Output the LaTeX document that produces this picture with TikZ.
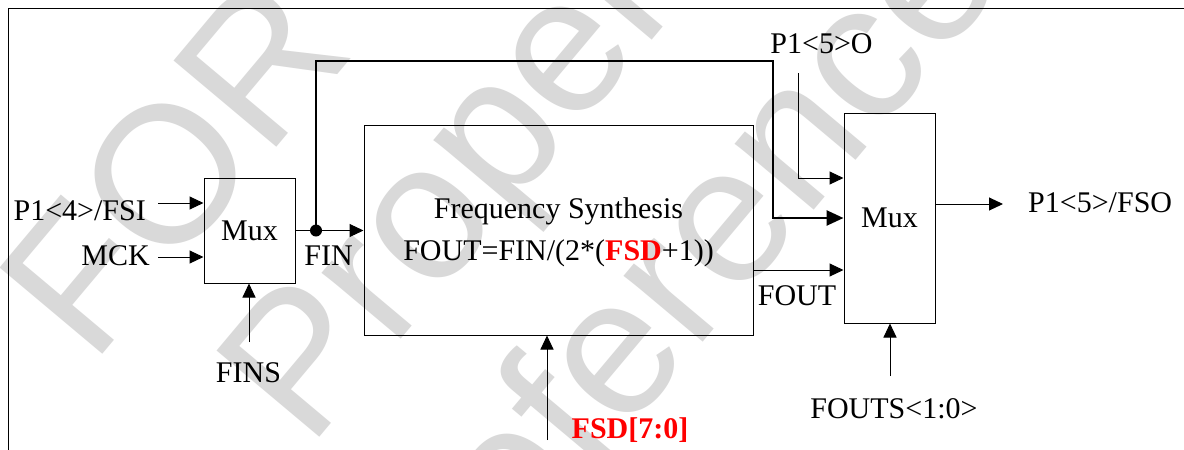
\documentclass[tikz,border=0pt]{standalone}
\usepackage{fontspec}
\setmainfont{Liberation Serif}
\newfontfamily\wmfont{Liberation Sans}
\usetikzlibrary{arrows.meta,calc}
\begin{document}
\begin{tikzpicture}[x=1pt,y=-1pt,
  lbl/.style={font=\fontsize{30}{36}\selectfont, inner sep=0pt},
  blk/.style={draw=black, line width=1pt, inner sep=0pt},
  arr/.style={line width=1pt, -{Triangle[length=14pt,width=13pt]}},
  thk/.style={line width=2.6pt, -{Triangle[length=17pt,width=15pt]}},
  wm/.style={text=black!15, font=\wmfont\fontsize{195}{195}\selectfont, rotate=50, inner sep=0pt}]
\useasboundingbox (0,0) rectangle (1184,450);
\fill[white] (0,0) rectangle (1184,450);
% watermark
\node[wm] (wm1) at (173,166) {FOR};
\node[wm] (wm2) at (510,137) {Property};
\node[wm] (wm3) at (690,250) {reference};
% frame
\draw[line width=1pt] (8,450) -- (8,8) -- (1184,8);
% blocks
\node[blk, minimum width=91pt, minimum height=105pt, font=\fontsize{30}{36}\selectfont] (m1) at (249.5,230.5) {Mux};
\node[blk, minimum width=389pt, minimum height=210pt] (fs) at (558.5,230) {};
\node[inner sep=0pt, align=center, font=\fontsize{30}{41.5}\selectfont] (fstxt) at (558.5,232.5) {Frequency Synthesis\\FOUT=FIN/(2*(\textcolor{red}{\textbf{FSD}}+1))};
\node[blk, minimum width=91pt, minimum height=210pt, font=\fontsize{30}{36}\selectfont] (m2) at (889.5,218) {Mux};
% labels
\node[lbl, anchor=base east] (l1) at (146,220) {P1<4>/FSI};
\node[lbl, anchor=base east] (l2) at (150,265) {MCK};
\node[lbl, anchor=base] (l3) at (248.5,382) {FINS};
\node[lbl, anchor=base] (l4) at (328.5,265) {FIN};
\node[lbl, anchor=base] (l5) at (797,305) {FOUT};
\node[lbl, anchor=base] (l6) at (821.5,53) {P1<5>O};
\node[lbl, anchor=base west] (l7) at (1028,212) {P1<5>/FSO};
\node[lbl, anchor=base] (l8) at (894,418) {FOUTS<1:0>};
\node[lbl, anchor=base, text=red, font=\bfseries\fontsize{30}{36}\selectfont] (l9) at (630,438) {FSD[7:0]};
% connectors
\coordinate (s1) at (158,203);
\coordinate (s2) at (158,257);
\coordinate (s3) at (249,342);
\coordinate (dot) at (316,230.5);
\coordinate (t1) at (773,61);
\coordinate (c2) at (773,218);
\coordinate (p5) at (798,73);
\coordinate (p5b) at (798,178);
\coordinate (fo) at (753,270);
\coordinate (s4) at (890,376);
\coordinate (s5) at (547,440);
\coordinate (o1) at (1003,204);
\draw[arr] (s1) -- (s1 -| m1.west);
\draw[arr] (s2) -- (s2 -| m1.west);
\draw[arr] (s3) -- (s3 |- m1.south);
\draw[arr] (m1.east) -- (m1.east -| fs.west);
\draw[thk] (dot) |- (t1) -- (c2) -- (c2 -| m2.west);
\fill (dot) circle (6pt);
\draw[arr] (p5) -- (p5b) -- (p5b -| m2.west);
\draw[arr] (fo -| fs.east) -- (fo -| m2.west);
\draw[arr] (s4) -- (s4 |- m2.south);
\draw[arr] (s5) -- (s5 |- fs.south);
\draw[arr] (o1 -| m2.east) -- (o1);
\end{tikzpicture}
\end{document}
